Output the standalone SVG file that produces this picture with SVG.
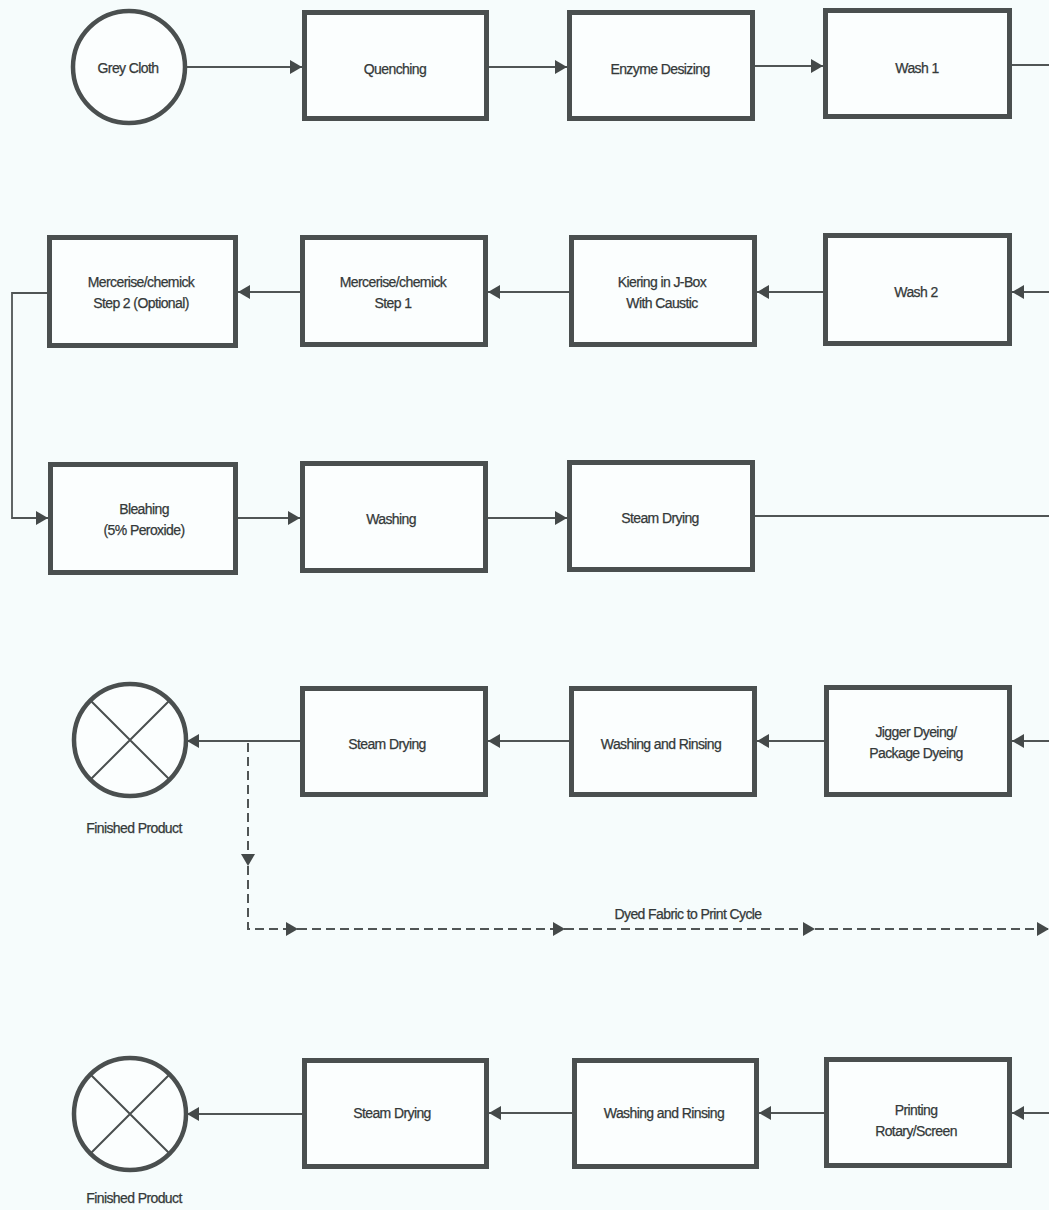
<svg xmlns="http://www.w3.org/2000/svg" width="1049" height="1210" viewBox="0 0 1049 1210">
<style>
.bg{fill:#f6fcfc}
.box{fill:#fbfefe;stroke:#4a4f4f;stroke-width:5}
.term{fill:#fbfefe;stroke:#4a4f4f;stroke-width:4.5}
.x{stroke:#4a4f4f;stroke-width:2;fill:none}
.ln{stroke:#505555;stroke-width:1.8;fill:none}
.dash{stroke:#505555;stroke-width:2;fill:none;stroke-dasharray:9 5}
text{font-family:"Liberation Sans",Arial,sans-serif;font-size:14px;fill:#343939;stroke:#343939;stroke-width:0.25;text-anchor:middle;letter-spacing:-0.6px}
</style>
<defs>
<marker id="ah" markerUnits="userSpaceOnUse" markerWidth="12" markerHeight="16" refX="12" refY="8" orient="auto">
<path d="M0,1 L12,8 L0,15 Z" fill="#444949"/>
</marker>
</defs>
<rect class="bg" x="0" y="0" width="1049" height="1210"/>

<g id="connectors">
<path class="ln" d="M187,67 H302" marker-end="url(#ah)"/>
<path class="ln" d="M489,67 H567" marker-end="url(#ah)"/>
<path class="ln" d="M755,66 H823" marker-end="url(#ah)"/>
<path class="ln" d="M1012,65 H1049"/>
<path class="ln" d="M1049,292 H1012" marker-end="url(#ah)"/>
<path class="ln" d="M823,292 H757" marker-end="url(#ah)"/>
<path class="ln" d="M569,292 H488" marker-end="url(#ah)"/>
<path class="ln" d="M300,292 H238" marker-end="url(#ah)"/>
<path class="ln" d="M47,293 H12 V518 H48" marker-end="url(#ah)"/>
<path class="ln" d="M238,518 H300" marker-end="url(#ah)"/>
<path class="ln" d="M488,518 H567" marker-end="url(#ah)"/>
<path class="ln" d="M755,516 H1049"/>
<path class="ln" d="M1049,741 H1012" marker-end="url(#ah)"/>
<path class="ln" d="M824,741 H757" marker-end="url(#ah)"/>
<path class="ln" d="M569,741 H488" marker-end="url(#ah)"/>
<path class="ln" d="M300,741 H187" marker-end="url(#ah)"/>
<path class="dash" d="M248,743 V866" marker-end="url(#ah)"/>
<path class="dash" d="M248,866 V929 H298" marker-end="url(#ah)"/>
<path class="dash" d="M298,929 H565" marker-end="url(#ah)"/>
<path class="dash" d="M565,929 H815" marker-end="url(#ah)"/>
<path class="dash" d="M815,929 H1049" marker-end="url(#ah)"/>
<text x="688" y="919">Dyed Fabric to Print Cycle</text>
<path class="ln" d="M1049,1113 H1012" marker-end="url(#ah)"/>
<path class="ln" d="M824,1113 H759" marker-end="url(#ah)"/>
<path class="ln" d="M572,1113 H489" marker-end="url(#ah)"/>
<path class="ln" d="M302,1114 H187" marker-end="url(#ah)"/>
</g>

<g id="grey-cloth">
<circle class="term" cx="129" cy="67" r="56"/>
<text x="128" y="73">Grey Cloth</text>
</g>
<g id="quenching">
<rect class="box" x="304.5" y="12.5" width="182" height="106"/>
<text x="395" y="74">Quenching</text>
</g>
<g id="enzyme-desizing">
<rect class="box" x="569.5" y="12.5" width="183" height="106"/>
<text x="660" y="74">Enzyme Desizing</text>
</g>
<g id="wash1">
<rect class="box" x="825.5" y="10.5" width="184" height="106"/>
<text x="917" y="73">Wash 1</text>
</g>

<g id="mercerise2">
<rect class="box" x="49.5" y="237.5" width="186" height="108"/>
<text x="141" y="287">Mercerise/chemick</text>
<text x="141" y="308">Step 2 (Optional)</text>
</g>
<g id="mercerise1">
<rect class="box" x="302.5" y="237.5" width="183" height="107"/>
<text x="393" y="287">Mercerise/chemick</text>
<text x="393" y="308">Step 1</text>
</g>
<g id="kiering">
<rect class="box" x="571.5" y="237.5" width="183" height="107"/>
<text x="662" y="287">Kiering in J-Box</text>
<text x="662" y="308">With Caustic</text>
</g>
<g id="wash2">
<rect class="box" x="825.5" y="235.5" width="184" height="108"/>
<text x="916" y="297">Wash 2</text>
</g>

<g id="bleaching">
<rect class="box" x="50.5" y="464.5" width="185" height="108"/>
<text x="144" y="514">Bleahing</text>
<text x="144" y="535">(5% Peroxide)</text>
</g>
<g id="washing">
<rect class="box" x="302.5" y="463.5" width="183" height="107"/>
<text x="391" y="524">Washing</text>
</g>
<g id="steam-drying1">
<rect class="box" x="569.5" y="462.5" width="183" height="107"/>
<text x="660" y="523">Steam Drying</text>
</g>

<g id="finished1">
<circle class="term" cx="130" cy="740" r="56"/>
<path class="x" d="M90,700 L170,780 M170,700 L90,780"/>
<text x="134" y="833">Finished Product</text>
</g>
<g id="steam-drying2">
<rect class="box" x="302.5" y="688.5" width="183" height="106"/>
<text x="387" y="749">Steam Drying</text>
</g>
<g id="washing-rinsing1">
<rect class="box" x="571.5" y="688.5" width="183" height="106"/>
<text x="661" y="749">Washing and Rinsing</text>
</g>
<g id="jigger-dyeing">
<rect class="box" x="826.5" y="687.5" width="183" height="107"/>
<text x="916" y="737">Jigger Dyeing/</text>
<text x="916" y="758">Package Dyeing</text>
</g>

<g id="finished2">
<circle class="term" cx="130" cy="1114" r="56"/>
<path class="x" d="M90,1074 L170,1154 M170,1074 L90,1154"/>
<text x="134" y="1203">Finished Product</text>
</g>
<g id="steam-drying3">
<rect class="box" x="304.5" y="1060.5" width="182" height="106"/>
<text x="392" y="1118">Steam Drying</text>
</g>
<g id="washing-rinsing2">
<rect class="box" x="574.5" y="1060.5" width="182" height="106"/>
<text x="664" y="1118">Washing and Rinsing</text>
</g>
<g id="printing">
<rect class="box" x="826.5" y="1059.5" width="183" height="106"/>
<text x="916" y="1115">Printing</text>
<text x="916" y="1136">Rotary/Screen</text>
</g>
</svg>
